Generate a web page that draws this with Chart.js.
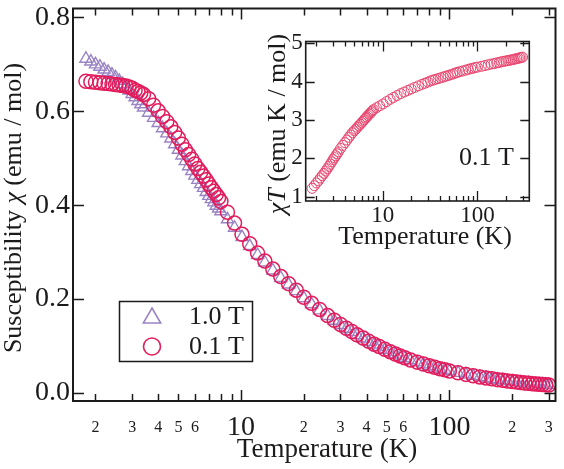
<!DOCTYPE html>
<html><head><meta charset="utf-8">
<script src="https://cdn.jsdelivr.net/npm/chart.js@4/dist/chart.umd.min.js"></script>
<style>
html,body{margin:0;padding:0;background:#fff;}
#wrap{position:relative;width:564px;height:469px;background:#fff;}
canvas{position:absolute;left:0;top:0;}
</style></head><body>
<div id="wrap"><canvas id="main" width="564" height="469"></canvas><canvas id="inset" width="564" height="469"></canvas></div>
<script>
// ---- data ----
const temperature = [
  1.8,1.9,2.0,2.1,2.2,2.3,2.4,2.5,2.6,2.7,2.8,2.9,3.0,3.1,3.2,3.3,3.4,
  3.6,3.8,4.0,4.2,4.4,4.6,4.8,5.0,5.2,5.4,5.6,5.8,6.0,6.2,6.4,6.6,6.8,7.0,7.2,7.4,7.6,7.8,8.0,
  8.6,9.3,10.1,11.0,12.0,13.0,14.2,15.5,16.9,18.4,20.0,21.8,23.8,26.0,28.0,30.0,32.0,34.0,36.0,38.5,41.0,43.5,46.0,49.0,52.0,55.0,58.0,61.0,
  65,70,75,80,85,90,95,100,
  110,120,130,140,150,160,170,180,190,200,210,220,230,240,250,260,270,280,290,300
];
// susceptibility chi (emu/mol), 0.1 T (circles)
const chi01T = [
  .664,.663,.662,.661,.660,.659,.658,.657,.656,.655,.654,.652,.649,.645,.642,.639,.636,
  .627,.613,.601,.589,.578,.567,.555,.543,.530,.518,.508,.498,.488,.478,.470,.462,.454,.445,.437,.430,.423,.416,.408,
  .385,.362,.338,.318,.298,.281,.264,.248,.233,.219,.204,.191,.178,.165,.155,.146,.138,.131,.124,.117,.110,.104,.099,.093,.088,.083,.079,.075,
  .0705,.0658,.0616,.0580,.0548,.0519,.0493,.0468,
  .0430,.0397,.0368,.0343,.0321,.0302,.0285,.0270,.0256,.0244,.0233,.0223,.0214,.0206,.0198,.0191,.0185,.0179,.0174,.0169
];
// susceptibility chi (emu/mol), 1.0 T (triangles)
const chi10T = [
  .712,.706,.700,.695,.689,.684,.678,.672,.665,.658,.651,.644,.637,.630,.622,.615,.608,
  .597,.586,.575,.564,.553,.542,.530,.518,.506,.494,.483,.473,.463,.454,.445,.437,.428,.420,.413,.406,.399,.393,.387,
  .370,.352,.332,.313,.294,.278,.261,.245,.231,.217,.202,.189,.176,.164,.154,.145,.137,.130,.123,.116,.109,.103,.098,.092,.087,.082,.078,.074,
  .0698,.0652,.0611,.0575,.0544,.0515,.0490,.0465,
  .0428,.0395,.0366,.0341,.0319,.0300,.0283,.0268,.0255,.0243,.0232,.0222,.0213,.0205,.0197,.0190,.0184,.0178,.0173,.0168
];
// inset: chi*T (emu K/mol), 0.1 T
const chiT01T = [
  1.22,1.29,1.36,1.42,1.49,1.55,1.61,1.67,1.73,1.79,1.85,1.91,1.97,2.02,2.07,2.12,2.17,
  2.26,2.34,2.41,2.48,2.55,2.61,2.67,2.72,2.76,2.81,2.85,2.89,2.93,2.97,3.01,3.05,3.08,3.12,3.15,3.18,3.21,3.24,3.27,
  3.32,3.37,3.42,3.48,3.54,3.59,3.64,3.69,3.73,3.77,3.81,3.85,3.89,3.93,3.96,3.99,4.02,4.04,4.06,4.08,4.10,4.12,4.14,4.16,4.18,4.20,4.22,4.24,
  4.26,4.28,4.30,4.32,4.34,4.35,4.37,4.38,
  4.40,4.42,4.44,4.46,4.47,4.49,4.50,4.52,4.53,4.54,4.55,4.56,4.57,4.58,4.59,4.60,4.61,4.62,4.63,4.64
];
const xTickValues = [2,3,4,5,6,7,8,9,10,20,30,40,50,60,70,80,90,100,200,300];
const xMajorTicks = [10,100];
const mainXTickLabels = {2:'2',3:'3',4:'4',5:'5',6:'6',10:'10',20:'2',30:'3',40:'4',50:'5',60:'6',100:'100',200:'2',300:'3'};
const insetXTickLabels = {10:'10',100:'100'};
const mainYTicks = [0,0.2,0.4,0.6,0.8];
const insetYTicks = [1,2,3,4,5];
const legendLabels = ['1.0 T','0.1 T'];

// ---- styles ----
const serif = '"Liberation Serif","DejaVu Serif","Times New Roman",serif';
const crimson = '#e31c5c';
const lavender = '#9a84c4';
const insetPink = '#e8466f';
const ink = '#1c1a1b';

function richText(ctx, segs, cx, cy, size, rot) {
  ctx.save();
  ctx.translate(cx, cy);
  if (rot) ctx.rotate(rot);
  ctx.textBaseline = 'middle'; ctx.textAlign = 'left'; ctx.fillStyle = ink;
  const fonts = segs.map(s => (s.italic ? 'italic ' : '') + size + 'px ' + serif);
  let total = 0;
  segs.forEach((s, i) => { ctx.font = fonts[i]; total += ctx.measureText(s.t).width; });
  let xx = -total / 2;
  segs.forEach((s, i) => { ctx.font = fonts[i]; ctx.fillText(s.t, xx, 0); xx += ctx.measureText(s.t).width; });
  ctx.restore();
}

function frameAndTicks(chart, o) {
  const {ctx, chartArea: a} = chart;
  const x = chart.scales.x, y = chart.scales.y;
  ctx.save();
  ctx.strokeStyle = ink; ctx.lineWidth = o.lw;
  ctx.beginPath();
  xTickValues.forEach(v => {
    const px = Math.round(x.getPixelForValue(v)) + 0.5;
    if (px < a.left || px > a.right) return;
    const len = xMajorTicks.includes(v) ? o.xMaj : o.xMin;
    ctx.moveTo(px, a.bottom); ctx.lineTo(px, a.bottom - len);
    ctx.moveTo(px, a.top); ctx.lineTo(px, a.top + len);
  });
  o.yTicks.forEach(v => {
    const py = Math.round(y.getPixelForValue(v)) + 0.5;
    ctx.moveTo(a.left, py); ctx.lineTo(a.left + o.yLen, py);
    ctx.moveTo(a.right, py); ctx.lineTo(a.right - o.yLen, py);
  });
  ctx.stroke();
  ctx.lineWidth = o.frame;
  ctx.strokeRect(a.left, a.top, a.right - a.left, a.bottom - a.top);
  ctx.restore();
}

function yLabels(chart, list, size, fmt) {
  const ctx = chart.ctx, y = chart.scales.y, a = chart.chartArea;
  ctx.save();
  ctx.fillStyle = ink; ctx.textAlign = 'right'; ctx.textBaseline = 'middle';
  ctx.font = size + 'px ' + serif;
  list.forEach(v => ctx.fillText(fmt(v), a.left - 3, y.getPixelForValue(v)));
  ctx.restore();
}

const mainDecor = {
  id: 'mainDecor',
  afterDraw(chart) {
    const ctx = chart.ctx, x = chart.scales.x;
    frameAndTicks(chart, {lw: 1.5, frame: 2, xMaj: 11, xMin: 7, yLen: 11, yTicks: mainYTicks});
    yLabels(chart, mainYTicks, 28, v => v.toFixed(1));
    ctx.save();
    ctx.fillStyle = ink; ctx.textAlign = 'center'; ctx.textBaseline = 'middle';
    Object.keys(mainXTickLabels).forEach(k => {
      const v = +k;
      ctx.font = (xMajorTicks.includes(v) ? 28 : 16) + 'px ' + serif;
      ctx.fillText(mainXTickLabels[k], x.getPixelForValue(v), 428);
    });
    ctx.restore();
    richText(ctx, [{t: 'Temperature (K)'}], 327, 450, 27);
    richText(ctx, [{t: 'Susceptibility '}, {t: 'χ', italic: true}, {t: ' (emu / mol)'}], 14, 208, 26, -Math.PI / 2);
    // legend
    ctx.save();
    ctx.strokeStyle = ink; ctx.lineWidth = 1.5;
    ctx.strokeRect(119.5, 301.5, 133, 60);
    ctx.lineWidth = 1.6;
    ctx.strokeStyle = lavender;
    const tx = 152, ty = 318, r = 10;
    ctx.beginPath();
    for (let i = 0; i < 3; i++) {
      const ang = i * 2 * Math.PI / 3;
      const px = tx + Math.sin(ang) * r, py = ty - Math.cos(ang) * r;
      if (i === 0) ctx.moveTo(px, py); else ctx.lineTo(px, py);
    }
    ctx.closePath(); ctx.stroke();
    ctx.strokeStyle = crimson;
    ctx.beginPath(); ctx.arc(152, 346.5, 8.5, 0, Math.PI * 2); ctx.stroke();
    ctx.fillStyle = ink; ctx.font = '26px ' + serif; ctx.textAlign = 'left'; ctx.textBaseline = 'middle';
    ctx.fillText(legendLabels[0], 189, 317);
    ctx.fillText(legendLabels[1], 189, 347);
    ctx.restore();
  }
};

const insetDecor = {
  id: 'insetDecor',
  afterDraw(chart) {
    const ctx = chart.ctx, x = chart.scales.x;
    frameAndTicks(chart, {lw: 1.3, frame: 1.6, xMaj: 10, xMin: 5, yLen: 9, yTicks: insetYTicks});
    yLabels(chart, insetYTicks, 23, v => String(v));
    ctx.save();
    ctx.fillStyle = ink; ctx.textAlign = 'center'; ctx.textBaseline = 'middle';
    ctx.font = '23px ' + serif;
    Object.keys(insetXTickLabels).forEach(k => {
      ctx.fillText(insetXTickLabels[k], x.getPixelForValue(+k), 216);
    });
    ctx.font = '26px ' + serif; ctx.textAlign = 'right';
    ctx.fillText('0.1 T', 514, 158);
    ctx.restore();
    richText(ctx, [{t: 'Temperature (K)'}], 425, 237, 26);
    richText(ctx, [{t: 'χ', italic: true}, {t: 'T', italic: true}, {t: ' (emu K / mol)'}], 278, 124, 26, -Math.PI / 2);
  }
};

const fixTicks = list => s => { s.ticks = list.map(v => ({value: v})); };

new Chart(document.getElementById('main'), {
  type: 'scatter',
  data: {
    datasets: [
      {label: legendLabels[1], data: temperature.map((t, i) => ({x: t, y: chi01T[i]})),
       pointStyle: 'circle', pointRadius: 7, pointBorderWidth: 1.5,
       borderColor: crimson, pointBorderColor: crimson, backgroundColor: 'rgba(0,0,0,0)', pointBackgroundColor: 'rgba(0,0,0,0)'},
      {label: legendLabels[0], data: temperature.map((t, i) => ({x: t, y: chi10T[i]})),
       pointStyle: 'triangle', pointRadius: 7, pointBorderWidth: 1.4,
       borderColor: lavender, pointBorderColor: lavender, backgroundColor: 'rgba(0,0,0,0)', pointBackgroundColor: 'rgba(0,0,0,0)'}
    ]
  },
  options: {
    responsive: false, animation: false, devicePixelRatio: 1,
    layout: {padding: {left: 0, right: 2, top: 5, bottom: 0}},
    plugins: {legend: {display: false}, tooltip: {enabled: false}},
    scales: {
      x: {type: 'logarithmic', min: 1.56, max: 323,
          grid: {display: false}, border: {display: false}, ticks: {display: false},
          afterBuildTicks: fixTicks(xTickValues), afterFit: s => { s.height = 68; }},
      y: {type: 'linear', min: -0.017, max: 0.819,
          grid: {display: false}, border: {display: false}, ticks: {display: false},
          afterBuildTicks: fixTicks(mainYTicks), afterFit: s => { s.width = 73; }}
    }
  },
  plugins: [mainDecor]
});

new Chart(document.getElementById('inset'), {
  type: 'scatter',
  data: {
    datasets: [
      {label: '0.1 T', data: temperature.map((t, i) => ({x: t, y: chiT01T[i]})),
       pointStyle: 'circle', pointRadius: 5, pointBorderWidth: 1,
       borderColor: insetPink, pointBorderColor: insetPink, backgroundColor: 'rgba(0,0,0,0)', pointBackgroundColor: 'rgba(0,0,0,0)'}
    ]
  },
  options: {
    responsive: false, animation: false, devicePixelRatio: 1,
    layout: {padding: {left: 265.7, right: 34.7, top: 41.5, bottom: 248}},
    plugins: {legend: {display: false}, tooltip: {enabled: false}},
    scales: {
      x: {type: 'logarithmic', min: 1.54, max: 353,
          grid: {display: false}, border: {display: false}, ticks: {display: false},
          afterBuildTicks: fixTicks(xTickValues), afterFit: s => { s.height = 20; }},
      y: {type: 'linear', min: 0.89, max: 5.047,
          grid: {display: false}, border: {display: false}, ticks: {display: false},
          afterBuildTicks: fixTicks(insetYTicks), afterFit: s => { s.width = 40; }}
    }
  },
  plugins: [insetDecor]
});
</script>
</body></html>
